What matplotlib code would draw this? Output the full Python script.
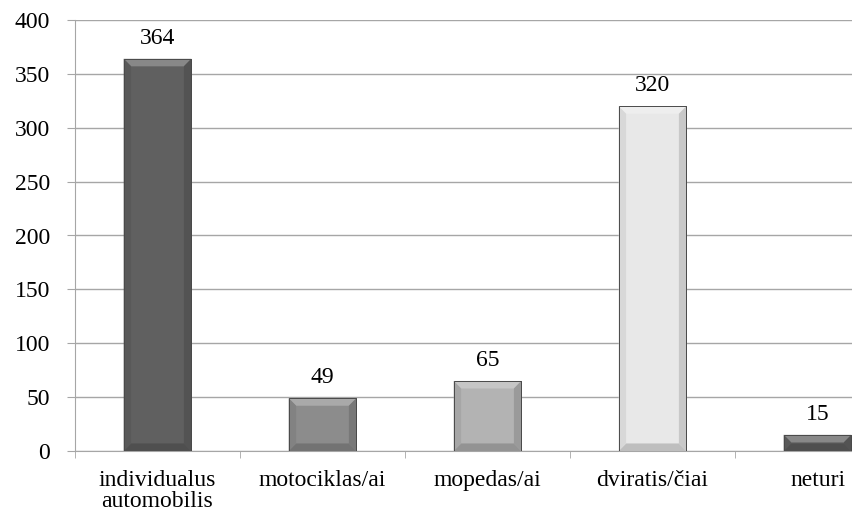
import matplotlib
matplotlib.use("Agg")
import matplotlib.pyplot as plt
from matplotlib.patches import Polygon
import numpy as np

# transport types and counts
categories = ["individualus\nautomobilis", "motociklas/ai", "mopedas/ai", "dviratis/čiai", "neturi"]
values = [364, 49, 65, 320, 15]
bar_colors = ["#606060", "#8c8c8c", "#b3b3b3", "#e8e8e8", "#606060"]
yticks = [0, 50, 100, 150, 200, 250, 300, 350, 400]

plt.rcParams["font.family"] = ["Liberation Serif", "DejaVu Serif"]
fs = 17

fig = plt.figure(figsize=(8.53, 5.18), dpi=100)
# axes runs a bit past the right edge of the canvas
ax = fig.add_axes([75 / 853, 67 / 518, 825 / 853, 431 / 518])

x = np.arange(len(values))
width = 0.41
ax.set_xlim(-0.5, len(values) - 0.5)
ax.set_ylim(0, 400)

bars = ax.bar(x, values, width=width, color=bar_colors, edgecolor="#4a4a4a",
              linewidth=0.6, zorder=3)


def shade(c, f):
    rgb = np.array(matplotlib.colors.to_rgb(c))
    if f > 1:
        return tuple(rgb + (1 - rgb) * (f - 1))
    return tuple(rgb * f)


# bevelled look on each bar
bx = 0.045
for b, c in zip(bars, bar_colors):
    x0 = b.get_x()
    x1 = x0 + b.get_width()
    h = b.get_height()
    by = min(7.0, h / 2)
    faces = [
        ([(x0, h), (x1, h), (x1 - bx, h - by), (x0 + bx, h - by)], shade(c, 1.25)),
        ([(x0, 0), (x1, 0), (x1 - bx, by), (x0 + bx, by)], shade(c, 0.82)),
        ([(x0, 0), (x0 + bx, by), (x0 + bx, h - by), (x0, h)], shade(c, 0.93)),
        ([(x1, 0), (x1 - bx, by), (x1 - bx, h - by), (x1, h)], shade(c, 0.86)),
    ]
    for pts, fc in faces:
        ax.add_patch(Polygon(pts, closed=True, facecolor=fc, edgecolor="none", zorder=4))
    ax.add_patch(Polygon([(x0, 0), (x1, 0), (x1, h), (x0, h)], closed=True,
                         facecolor="none", edgecolor="#4a4a4a", linewidth=0.7, zorder=5))

for xi, v in zip(x, values):
    ax.annotate(str(v), (xi, v), xytext=(0, 7), textcoords="offset points",
                ha="center", va="bottom", fontsize=fs)

ax.set_yticks(yticks)
ax.set_yticklabels([str(t) for t in yticks], fontsize=fs)
ax.yaxis.grid(True, color="#a6a6a6", linewidth=1.0, zorder=0)
ax.set_axisbelow(True)

# category labels between boundary tick marks
ax.set_xticks(x)
ax.set_xticklabels(categories, fontsize=fs, linespacing=1.0)
ax.set_xticks(np.arange(len(values) + 1) - 0.5, minor=True)
ax.tick_params(axis="x", which="major", length=0, pad=14)
ax.tick_params(axis="x", which="minor", length=5, color="#a6a6a6", direction="out")
ax.tick_params(axis="y", length=6, color="#a6a6a6", pad=12)

for s in ["top", "right"]:
    ax.spines[s].set_visible(False)
ax.spines["left"].set_color("#a6a6a6")
ax.spines["bottom"].set_color("#a6a6a6")

fig.savefig("out.png", dpi=100)
